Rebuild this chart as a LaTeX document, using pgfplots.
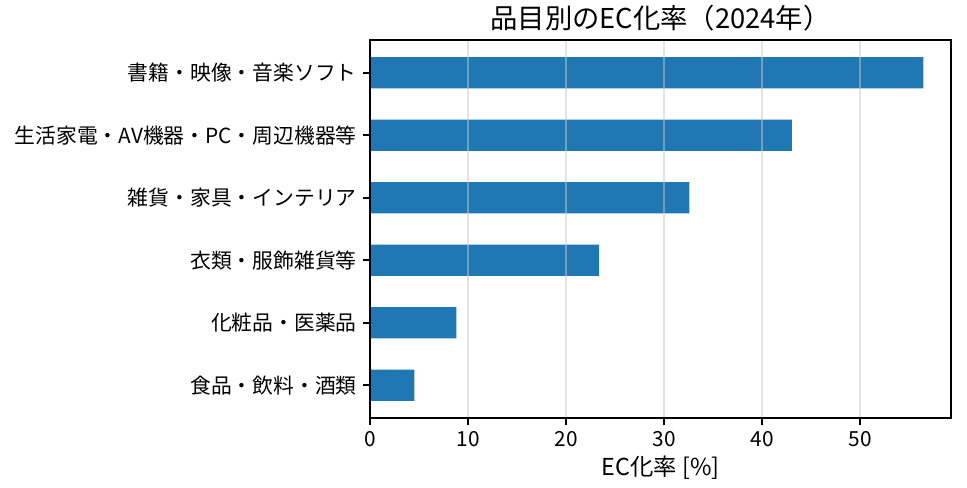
\documentclass[border=0pt]{standalone}
\usepackage{pgfplots}
\pgfplotsset{compat=1.18}
\usepackage{fontspec}
\setmainfont{Noto Sans CJK JP}
\definecolor{c0}{HTML}{1F77B4}
\begin{document}
\begin{tikzpicture}
\useasboundingbox (0,0) rectangle (725.25pt,366pt);
\begin{axis}[
  at={(277.5pt,52.5pt)}, anchor=south west,
  scale only axis, width=435.75pt, height=283.5pt,
  xmin=0, xmax=59.27, ymin=-0.525, ymax=5.525,
  xbar, bar width=0.5,
  ytick={0,1,2,3,4,5},
  yticklabels={食品・飲料・酒類, 化粧品・医薬品, 衣類・服飾雑貨等, 雑貨・家具・インテリア, 生活家電・AV機器・PC・周辺機器等, 書籍・映像・音楽ソフト},
  xtick={0,10,20,30,40,50},
  tick align=outside, xtick pos=bottom, ytick pos=left,
  major tick length=5.5pt,
  tick style={line width=1.25pt, black},
  axis line style={line width=1.25pt},
  xmajorgrids, major grid style={line width=1.1pt, color=gray!45, opacity=0.5},
  axis on top,
  /pgf/number format/assume math mode=true,
  tick label style={font=\fontsize{15.6}{18}\selectfont},
  xticklabel style={yshift=-1pt},
  yticklabel style={xshift=-1pt},
  xlabel={EC化率 [\%]},
  xlabel style={font=\fontsize{17.5}{20}\selectfont, yshift=0pt},
  title={品目別のEC化率（2024年）},
  title style={font=\fontsize{20.5}{24}\selectfont, yshift=-3pt},
]
\addplot[fill=c0, draw=none] coordinates {
  (4.52,0) (8.82,1) (23.38,2) (32.58,3) (43.03,4) (56.45,5)
};
\end{axis}
\end{tikzpicture}
\end{document}
